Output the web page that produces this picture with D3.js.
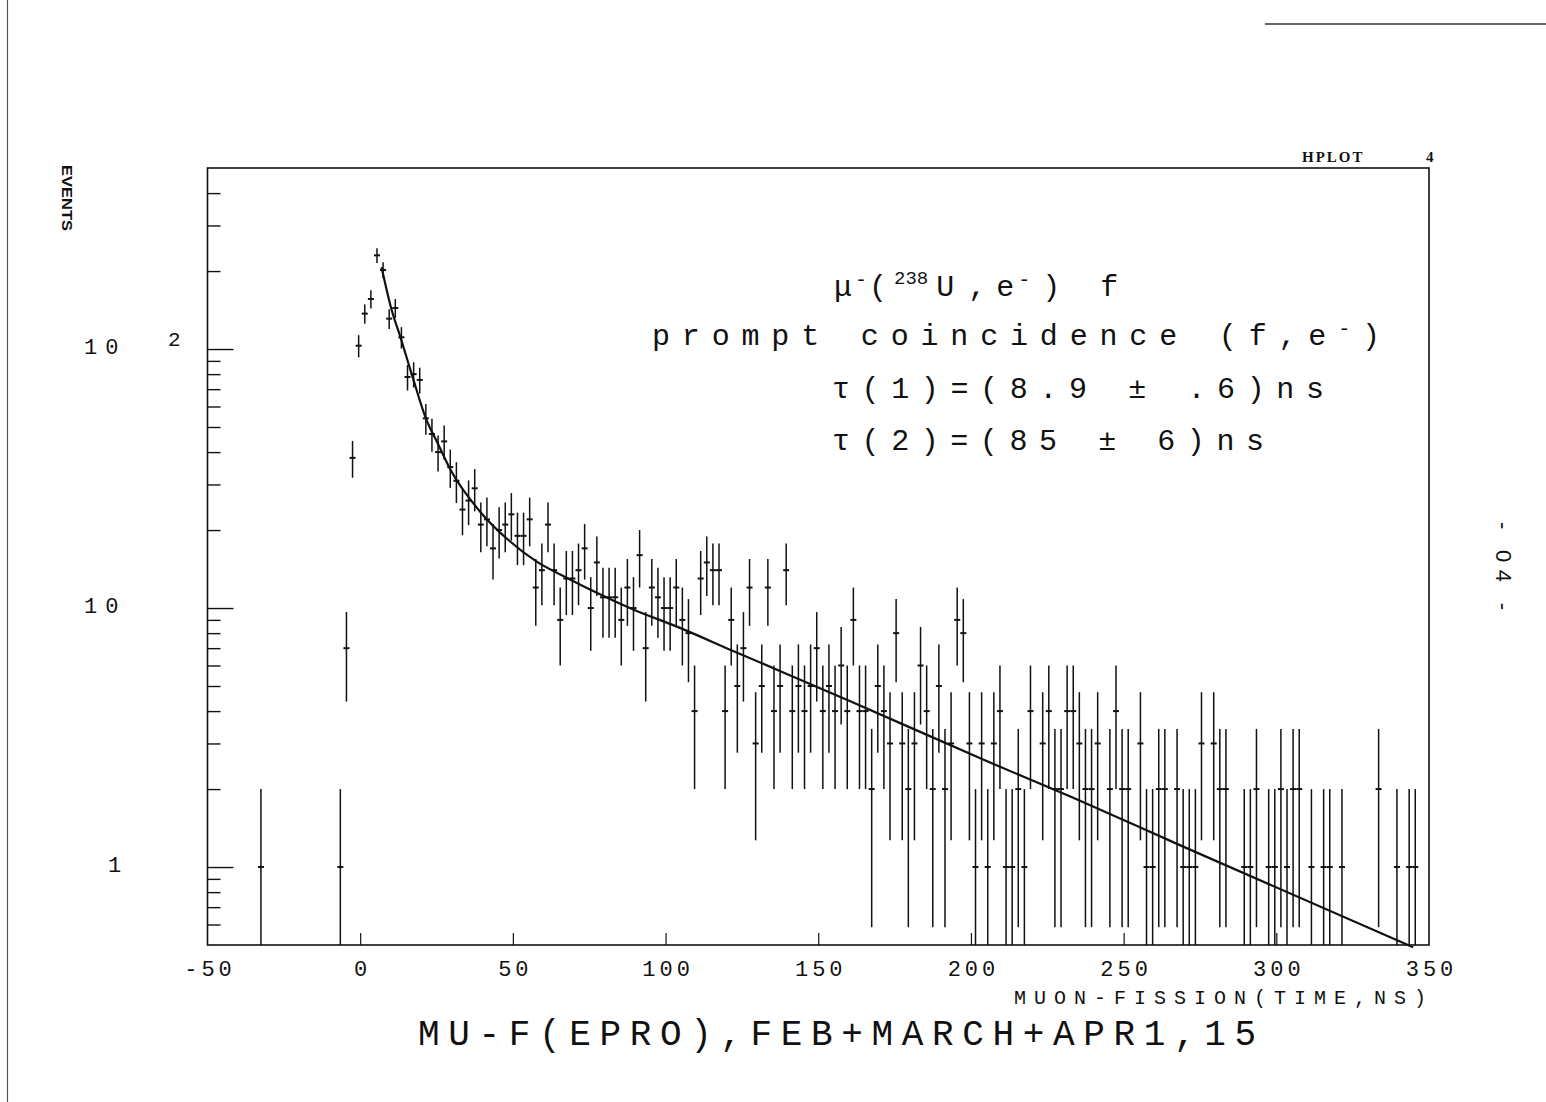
<!DOCTYPE html>
<html>
<head>
<meta charset="utf-8">
<script src="https://cdn.jsdelivr.net/npm/d3@7"></script>
<style>
  body { margin: 0; background: #fff; }
  svg { display: block; }
  .hp { font-family: "Liberation Mono", "DejaVu Sans Mono", monospace; fill: #111; }
</style>
</head>
<body>
<script>

// histogram bins (centre of 2 ns bin) and counts
var binTime = [-32.5, -6.5, -4.5, -2.5, -0.5, 1.5, 3.5, 5.5, 7.5, 9.5,
  11.5, 13.5, 15.5, 17.5, 19.5, 21.5, 23.5, 25.5, 27.5, 29.5,
  31.5, 33.5, 35.5, 37.5, 39.5, 41.5, 43.5, 45.5, 47.5, 49.5,
  51.5, 53.5, 55.5, 57.5, 59.5, 61.5, 63.5, 65.5, 67.5, 69.5,
  71.5, 73.5, 75.5, 77.5, 79.5, 81.5, 83.5, 85.5, 87.5, 89.5,
  91.5, 93.5, 95.5, 97.5, 99.5, 101.5, 103.5, 105.5, 107.5, 109.5,
  111.5, 113.5, 115.5, 117.5, 119.5, 121.5, 123.5, 125.5, 127.5, 129.5,
  131.5, 133.5, 135.5, 137.5, 139.5, 141.5, 143.5, 145.5, 147.5, 149.5,
  151.5, 153.5, 155.5, 157.5, 159.5, 161.5, 163.5, 165.5, 167.5, 169.5,
  171.5, 173.5, 175.5, 177.5, 179.5, 181.5, 183.5, 185.5, 187.5, 189.5,
  191.5, 193.5, 195.5, 197.5, 199.5, 201.5, 203.5, 205.5, 207.5, 209.5,
  211.5, 213.5, 215.5, 217.5, 219.5, 223.5, 225.5, 227.5, 229.5, 231.5,
  233.5, 235.5, 237.5, 239.5, 241.5, 245.5, 247.5, 249.5, 251.5, 255.5,
  257.5, 259.5, 261.5, 263.5, 267.5, 269.5, 271.5, 273.5, 275.5, 279.5,
  281.5, 283.5, 289.5, 291.5, 293.5, 297.5, 299.5, 301.5, 303.5, 305.5,
  307.5, 311.5, 315.5, 317.5, 321.5, 333.5, 339.5, 343.5, 345.5];

var events = [1, 1, 7, 38, 103, 137, 156, 230, 202, 131,
  144, 111, 78, 80, 76, 54, 47, 40, 44, 35,
  31, 24, 26, 29, 21, 22, 17, 20, 21, 23,
  19, 19, 22, 12, 14, 21, 14, 9, 13, 13,
  14, 17, 10, 15, 11, 11, 11, 9, 12, 10,
  16, 7, 12, 11, 10, 10, 12, 9, 8, 4,
  13, 15, 14, 14, 4, 9, 5, 7, 12, 3,
  5, 12, 4, 5, 14, 4, 5, 4, 5, 7,
  4, 5, 4, 6, 4, 9, 4, 4, 2, 5,
  4, 3, 8, 3, 2, 3, 6, 4, 2, 5,
  2, 3, 9, 8, 3, 1, 3, 1, 3, 4,
  1, 1, 2, 1, 4, 3, 4, 2, 2, 4,
  4, 3, 2, 2, 3, 2, 4, 2, 2, 3,
  1, 1, 2, 2, 2, 1, 1, 1, 3, 3,
  2, 2, 1, 1, 2, 1, 1, 2, 1, 2,
  2, 1, 1, 1, 1, 2, 1, 1, 1];

// fitted two-lifetime curve
var fitTime   = [7.0, 10.2, 13.3, 17.3, 21.5, 25.5, 29.4, 39.2, 49, 57.8,
  67.6, 78.5, 89.4, 104.1, 122.1, 160.3, 204, 233.5, 268.4, 344.8];
var fitEvents = [207, 143, 110, 77, 54, 43, 34.5, 23.6, 18.1, 15.1,
  13.1, 11.3, 9.87, 8.44, 6.83, 4.38, 2.60, 1.85, 1.215, 0.49];

var xTickValues = [-50, 0, 50, 100, 150, 200, 250, 300, 350];
var xTickMarks = [0, 50, 100, 150, 200, 250, 300];
var yMinorTicks = [0.6, 0.7, 0.8, 0.9, 2, 3, 4, 5, 6, 7, 8, 9,
  20, 30, 40, 50, 60, 70, 80, 90, 200, 300, 400];
var yMajorTicks = [1, 10, 100];

var width = 1546, height = 1102;
var frame = { left: 207.5, right: 1429, top: 168, bottom: 945 };

var svg = d3.select("body")
  .append("svg")
  .attr("width", width)
  .attr("height", height);

svg.append("rect").attr("width", width).attr("height", height).attr("fill", "#fff");

// page edges from the scan
svg.append("line").attr("x1", 7.5).attr("x2", 7.5).attr("y1", 0).attr("y2", height)
  .attr("stroke", "#555").attr("stroke-width", 1.2);
svg.append("line").attr("x1", 1265).attr("x2", width).attr("y1", 24).attr("y2", 24)
  .attr("stroke", "#333").attr("stroke-width", 1.5);

var x = d3.scaleLinear().domain([-50, 350]).range([frame.left, frame.right]);
var y = d3.scaleLog().domain([0.5, 500]).range([frame.bottom, frame.top]);

// frame
svg.append("rect")
  .attr("x", frame.left).attr("y", frame.top)
  .attr("width", frame.right - frame.left)
  .attr("height", frame.bottom - frame.top)
  .attr("fill", "none").attr("stroke", "#111").attr("stroke-width", 1.6);

// left axis ticks (inside)
var minorAxis = svg.append("g")
  .attr("transform", "translate(" + frame.left + ",0)")
  .call(d3.axisRight(y).tickValues(yMinorTicks).tickSize(13).tickFormat(""));
var majorAxis = svg.append("g")
  .attr("transform", "translate(" + frame.left + ",0)")
  .call(d3.axisRight(y).tickValues(yMajorTicks).tickSize(26).tickFormat(""));
[minorAxis, majorAxis].forEach(function(g) {
  g.select(".domain").remove();
  g.selectAll("line").attr("stroke", "#111").attr("stroke-width", 1.4);
});

// bottom axis ticks (inside) and labels
var xMarks = svg.append("g")
  .attr("transform", "translate(0," + frame.bottom + ")")
  .call(d3.axisTop(x).tickValues(xTickMarks).tickSize(12).tickFormat(""));
xMarks.select(".domain").remove();
xMarks.selectAll("line").attr("stroke", "#111").attr("stroke-width", 1.2);

var xLabels = svg.append("g")
  .attr("transform", "translate(0," + frame.bottom + ")")
  .call(d3.axisBottom(x).tickValues(xTickValues).tickSize(0).tickPadding(15)
    .tickFormat(function(d) { return String(d); }));
xLabels.select(".domain").remove();
xLabels.selectAll("text")
  .attr("class", "hp")
  .attr("font-family", null)
  .style("font-size", "22px")
  .style("letter-spacing", "4px")
  .attr("dx", 2);

// y labels, HPLOT style 10 with detached exponent
svg.append("text").attr("class", "hp").attr("x", 84).attr("y", y(100) + 5)
  .style("font-size", "22px").style("letter-spacing", "8px").text("10");
svg.append("text").attr("class", "hp").attr("x", 168).attr("y", y(100) - 3)
  .style("font-size", "21px").text("2");
svg.append("text").attr("class", "hp").attr("x", 84).attr("y", y(10) + 5)
  .style("font-size", "22px").style("letter-spacing", "8px").text("10");
svg.append("text").attr("class", "hp").attr("x", 108).attr("y", y(1) + 5)
  .style("font-size", "22px").text("1");

svg.append("text")
  .attr("transform", "translate(62,198) rotate(90)")
  .attr("text-anchor", "middle")
  .attr("font-family", "Liberation Sans, Arial, sans-serif")
  .attr("font-weight", "bold")
  .attr("font-size", 15)
  .attr("textLength", 66)
  .attr("lengthAdjust", "spacingAndGlyphs")
  .attr("fill", "#111")
  .text("EVENTS");

// data with sqrt(N) error bars
var points = binTime.map(function(t, i) { return { t: t, n: events[i] }; });

svg.selectAll(".err")
  .data(points)
  .enter()
  .append("line")
  .attr("class", "err")
  .attr("x1", function(d) { return x(d.t); })
  .attr("x2", function(d) { return x(d.t); })
  .attr("y1", function(d) { return y(Math.max(d.n - Math.sqrt(d.n), 0.5)); })
  .attr("y2", function(d) { return y(d.n + Math.sqrt(d.n)); })
  .attr("stroke", "#111")
  .attr("stroke-width", 1.5);

svg.selectAll(".pt")
  .data(points)
  .enter()
  .append("line")
  .attr("class", "pt")
  .attr("x1", function(d) { return x(d.t) - 3; })
  .attr("x2", function(d) { return x(d.t) + 3; })
  .attr("y1", function(d) { return y(d.n); })
  .attr("y2", function(d) { return y(d.n); })
  .attr("stroke", "#111")
  .attr("stroke-width", 2);

// fit curve
var fitLine = d3.line()
  .x(function(d, i) { return x(fitTime[i]); })
  .y(function(d) { return y(d); })
  .curve(d3.curveMonotoneX);

svg.append("path")
  .datum(fitEvents)
  .attr("d", fitLine)
  .attr("fill", "none")
  .attr("stroke", "#111")
  .attr("stroke-width", 2.2);

// annotation block
var note = svg.append("g").attr("class", "hp");

var line1 = note.append("text").attr("x", 834).attr("y", 296).style("font-size", "30px");
line1.append("tspan").text("\u03bc");
line1.append("tspan").attr("dx", 3).attr("dy", -10).style("font-size", "20px").text("-");
line1.append("tspan").attr("dx", 2).attr("dy", 10).text("(");
line1.append("tspan").attr("dx", 7).attr("dy", -12).style("font-size", "19px").text("238");
line1.append("tspan").attr("dx", 8).attr("dy", 12).text("U");
line1.append("tspan").attr("dx", 14).text(",");
line1.append("tspan").attr("dx", 10).text("e");
line1.append("tspan").attr("dx", 4).attr("dy", -10).style("font-size", "20px").text("-");
line1.append("tspan").attr("dx", 12).attr("dy", 10).text(")");
line1.append("tspan").attr("dx", 40).text("f");

var line2 = note.append("text").attr("x", 652).attr("y", 345).style("font-size", "30px")
  .attr("textLength", 728).attr("lengthAdjust", "spacing");
line2.append("tspan").text("prompt  coincidence  (f,e");
line2.append("tspan").attr("dy", -10).style("font-size", "20px").text("-");
line2.append("tspan").attr("dy", 10).text(")");

note.append("text").attr("x", 832).attr("y", 398).style("font-size", "30px")
  .attr("textLength", 492).attr("lengthAdjust", "spacing")
  .text("\u03c4(1)=(8.9 \u00b1 .6)ns");

note.append("text").attr("x", 832).attr("y", 450).style("font-size", "30px")
  .attr("textLength", 432).attr("lengthAdjust", "spacing")
  .text("\u03c4(2)=(85 \u00b1 6)ns");

// axis title and histogram title
svg.append("text").attr("class", "hp").attr("x", 1014).attr("y", 1004)
  .style("font-size", "20px").attr("textLength", 412).attr("lengthAdjust", "spacing")
  .text("MUON-FISSION(TIME,NS)");

svg.append("text").attr("class", "hp").attr("x", 418).attr("y", 1045)
  .style("font-size", "36px").attr("textLength", 838).attr("lengthAdjust", "spacing")
  .text("MU-F(EPRO),FEB+MARCH+APR1,15");

// header
svg.append("text").attr("x", 1302).attr("y", 162)
  .attr("font-family", "Liberation Serif, serif").attr("font-weight", "bold")
  .attr("font-size", 15).attr("letter-spacing", 2).attr("fill", "#111").text("HPLOT");
svg.append("text").attr("x", 1426).attr("y", 162)
  .attr("font-family", "Liberation Serif, serif").attr("font-weight", "bold")
  .attr("font-size", 15).attr("fill", "#111").text("4");

// page number on the right margin
svg.append("text")
  .attr("transform", "translate(1496,566) rotate(90)")
  .attr("text-anchor", "middle")
  .attr("font-family", "Liberation Sans, Arial, sans-serif")
  .attr("font-size", 22)
  .attr("fill", "#111")
  .attr("textLength", 88).attr("lengthAdjust", "spacing")
  .text("- 04 -");

</script>
</body>
</html>
